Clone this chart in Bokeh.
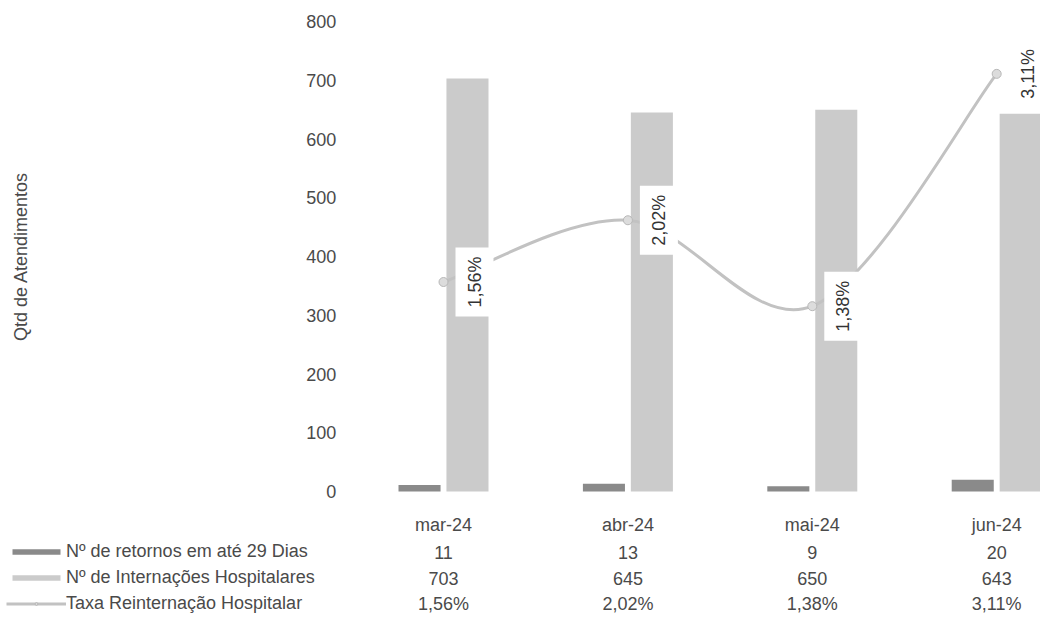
import math
from bokeh.plotting import figure
from bokeh.models import Range1d, Legend, LegendItem, ColumnDataSource
from bokeh.core.properties import value
from bokeh.embed import file_html
from bokeh.resources import INLINE

# ---------------- data ----------------
months = ["mar-24", "abr-24", "mai-24", "jun-24"]
retornos = [11, 13, 9, 20]
internacoes = [703, 645, 650, 643]
taxa = [0.0156, 0.0202, 0.0138, 0.0311]
taxa_labels = ["1,56%", "2,02%", "1,38%", "3,11%"]
y_ticks = [0, 100, 200, 300, 400, 500, 600, 700, 800]
series_names = ["Nº de retornos em até 29 Dias",
                "Nº de Internações Hospitalares",
                "Taxa Reinternação Hospitalar"]
y_title = "Qtd de Atendimentos"

# ---------------- style / layout ----------------
FONT = "Liberation Sans"
TXT = "#4a4a4a"
FS = "18px"
DARK = "#8a8a8a"
LIGHT = "#cbcbcb"
LINE = "#c2c2c2"

W, H = 1040, 624
CAT_PX = 184.4          # pixels per category
X0_PX = 443             # pixel position of first category
Y0_PX = 491             # pixel position of value 0
PX_PER_UNIT = 0.5875
Y_TOP = Y0_PX / PX_PER_UNIT
Y_BOT = -(H - Y0_PX) / PX_PER_UNIT
RATE_MAX = 0.035        # secondary scale: 3.5% at value 800
Y_MAX = 800
OFF = 0.13
BW = 0.228
ROW_Y = [-57, -103, -147.5, -191.5]
TITLE_X = (20 - X0_PX) / CAT_PX

n = len(months)
idx = list(range(n))

p = figure(width=W, height=H, output_backend="svg", toolbar_location=None,
           x_range=Range1d(-X0_PX / CAT_PX, (W - X0_PX) / CAT_PX),
           y_range=Range1d(Y_BOT, Y_TOP),
           min_border_left=0, min_border_right=0,
           min_border_top=0, min_border_bottom=0)
p.extra_y_ranges = {"rate": Range1d(Y_BOT * RATE_MAX / Y_MAX, Y_TOP * RATE_MAX / Y_MAX)}
p.outline_line_color = None
p.grid.visible = False
p.xaxis.visible = False
p.yaxis.visible = False
p.background_fill_color = "white"
p.border_fill_color = "white"

src = ColumnDataSource(dict(
    xd=[i - OFF for i in idx],
    xl=[i + OFF for i in idx],
    x=idx,
    ret=retornos,
    inter=internacoes,
    taxa=taxa,
    tl=taxa_labels,
))

# y tick labels and axis title (value axis on the left)
p.text(x=[-0.5] * len(y_ticks), y=y_ticks, text=[str(t) for t in y_ticks],
       x_offset=-15, text_align="right", text_baseline="middle",
       text_font=value(FONT), text_font_size=FS, text_color=TXT)
p.text(x=[TITLE_X], y=[(y_ticks[0] + y_ticks[-1]) / 2], text=[y_title],
       angle=math.pi / 2, text_align="center", text_baseline="middle",
       text_font=value(FONT), text_font_size=FS, text_color=TXT)

r_dark = p.vbar(x="xd", top="ret", bottom=0, width=BW, source=src,
                fill_color=DARK, line_color=None)
r_light = p.vbar(x="xl", top="inter", bottom=0, width=BW, source=src,
                 fill_color=LIGHT, line_color=None)

# smoothed line (Bezier segments through the data points)
pts = list(zip(idx, taxa))
bz = dict(x0=[], y0=[], x1=[], y1=[], cx0=[], cy0=[], cx1=[], cy1=[])
for i in range(n - 1):
    pp = pts[max(i - 1, 0)]
    a = pts[i]
    b = pts[i + 1]
    nn = pts[min(i + 2, n - 1)]
    bz["x0"].append(a[0]); bz["y0"].append(a[1])
    bz["x1"].append(b[0]); bz["y1"].append(b[1])
    bz["cx0"].append(a[0] + (b[0] - pp[0]) / 6); bz["cy0"].append(a[1] + (b[1] - pp[1]) / 6)
    bz["cx1"].append(b[0] - (nn[0] - a[0]) / 6); bz["cy1"].append(b[1] - (nn[1] - a[1]) / 6)
r_line = p.bezier(source=ColumnDataSource(bz), x0="x0", y0="y0", x1="x1", y1="y1",
                  cx0="cx0", cy0="cy0", cx1="cx1", cy1="cy1",
                  line_color=LINE, line_width=3, y_range_name="rate")
r_mark = p.scatter(x="x", y="taxa", source=src, size=9, marker="circle",
                   fill_color="#dcdcdc", line_color="#b8b8b8", line_width=1,
                   y_range_name="rate")

p.text(x="x", y="taxa", text="tl", source=src, angle=math.pi / 2, x_offset=31,
       text_align="center", text_baseline="middle",
       text_font=value(FONT), text_font_size="18px", text_color="#333333",
       background_fill_color="white", padding=9, y_range_name="rate")

# data table under the chart
rows = [months,
        [str(v) for v in retornos],
        [str(v) for v in internacoes],
        taxa_labels]
for ry, texts in zip(ROW_Y, rows):
    p.text(x=idx, y=[ry] * n, text=texts, text_align="center", text_baseline="middle",
           text_font=value(FONT), text_font_size=FS, text_color=TXT)

legend = Legend(items=[LegendItem(label=series_names[0], renderers=[r_dark]),
                       LegendItem(label=series_names[1], renderers=[r_light]),
                       LegendItem(label=series_names[2], renderers=[r_line, r_mark])],
                location=(6, 8), orientation="vertical",
                glyph_width=60, glyph_height=7, label_height=26, spacing=0,
                padding=0, margin=0, label_standoff=0,
                border_line_color=None, background_fill_alpha=0,
                label_text_font=FONT, label_text_font_size=FS, label_text_color=TXT)
p.add_layout(legend)

open("out.html", "w").write(file_html(p, INLINE))
